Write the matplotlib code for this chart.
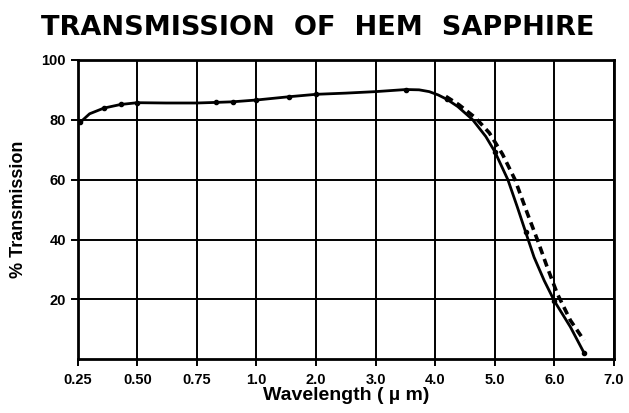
import numpy as np
import matplotlib
matplotlib.use("Agg")
import matplotlib.pyplot as plt

# Wavelength axis: evenly spaced ticks with uneven values
wl_ticks = [0.25, 0.50, 0.75, 1.0, 2.0, 3.0, 4.0, 5.0, 6.0, 7.0]
wl_tick_labels = ["0.25", "0.50", "0.75", "1.0", "2.0", "3.0", "4.0", "5.0", "6.0", "7.0"]
tick_pos = np.arange(len(wl_ticks), dtype=float)

# Transmission curve (solid)
solid_wl = [0.26, 0.30, 0.36, 0.43, 0.50, 0.62, 0.75, 0.83, 0.90, 1.0, 1.55,
            2.0, 2.5, 3.0, 3.51, 3.73, 3.9, 4.05, 4.2, 4.38, 4.63, 4.85, 5.0,
            5.22, 5.38, 5.52, 5.66, 5.83, 6.0, 6.27, 6.5]
solid_t = [79.1, 82.0, 83.9, 85.1, 85.7, 85.6, 85.6, 85.8, 86.0, 86.6, 87.7,
           88.5, 88.9, 89.4, 90.1, 90.0, 89.4, 88.3, 86.8, 84.4, 80.0, 74.4, 69.4,
           60.0, 50.8, 42.4, 34.1, 26.3, 19.5, 10.8, 2.1]
solid_marks_wl = [0.26, 0.36, 0.43, 0.50, 0.83, 0.90, 1.0, 1.55, 2.0, 3.51,
                  4.2, 5.0, 5.52, 6.0, 6.5]
solid_marks_t = [79.1, 83.9, 85.1, 85.7, 85.8, 86.0, 86.6, 87.7, 88.5, 90.1,
                 86.8, 69.4, 42.4, 19.5, 2.1]

# Transmission curve (dashed)
dash_wl = [4.18, 4.40, 4.68, 4.91, 5.13, 5.34, 5.55, 5.72, 5.88, 6.05, 6.27, 6.5]
dash_t = [87.8, 85.0, 80.6, 75.6, 68.5, 60.0, 48.6, 39.7, 30.8, 21.9, 13.0, 6.3]

y_ticks = [20, 40, 60, 80, 100]


def fwd(x):
    return np.interp(x, wl_ticks, tick_pos)


def inv(p):
    return np.interp(p, tick_pos, wl_ticks)


fig = plt.figure(figsize=(6.29, 4.13), dpi=100)
ax = fig.add_axes([0.1235, 0.130, 0.8525, 0.725])
ax.set_xscale("function", functions=(fwd, inv))
ax.set_xlim(wl_ticks[0], wl_ticks[-1])
ax.set_ylim(0, 100)

ax.set_xticks(wl_ticks)
ax.set_xticklabels(wl_tick_labels)
ax.set_yticks(y_ticks)
ax.set_yticklabels([str(v) for v in y_ticks])
ax.minorticks_off()

ax.grid(True, color="black", linewidth=1.4)
ax.set_axisbelow(True)
for s in ax.spines.values():
    s.set_linewidth(2.0)
    s.set_color("black")

ax.tick_params(axis="both", direction="out", length=5, width=1.4, colors="black",
               labelsize=10.5)
ax.tick_params(axis="x", pad=5)
for lab in ax.get_xticklabels() + ax.get_yticklabels():
    lab.set_fontweight("bold")
    lab.set_family("Liberation Sans")

ax.plot(solid_wl, solid_t, color="black", linewidth=2.0, solid_capstyle="round",
        solid_joinstyle="round")
ax.plot(solid_marks_wl, solid_marks_t, linestyle="none", marker="o",
        markersize=3, color="black")
ax.plot(dash_wl, dash_t, color="black", linewidth=2.6, linestyle=(0, (2.2, 1.4)))

ax.set_ylabel("% Transmission", fontsize=13, fontweight="bold",
              family="Liberation Sans", labelpad=10)
ax.set_xlabel("Wavelength ( \u00b5 m)", fontsize=14, fontweight="bold",
              family="Liberation Sans", labelpad=0)

fig.text(0.505, 0.933, "TRANSMISSION  OF  HEM  SAPPHIRE", ha="center", va="center",
         fontsize=19.5, fontweight="heavy", family="DejaVu Sans")

fig.savefig("out.png", dpi=100)
